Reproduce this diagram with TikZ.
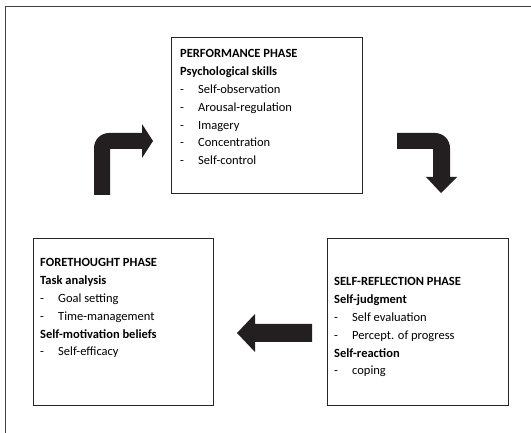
\documentclass[tikz,border=0pt]{standalone}
\usepackage{fontspec}
\setmainfont{Carlito}
\definecolor{arrowfill}{HTML}{231F20}
\begin{document}
\begin{tikzpicture}[x=1pt,y=-1pt,
  phasebox/.style={draw=black!85,line width=1.2pt,inner sep=0pt},
  phasetext/.style={anchor=base west,inner sep=0pt,
    font=\fontsize{12.5}{17.8}\selectfont},
  blockarrow/.style={fill=arrowfill,draw=none},
  frameline/.style={draw=black!75,line width=0.9pt}]
\useasboundingbox (0,0) rectangle (531,433);
% one line of a phase list; \itm gives a dash-led item
\newcommand{\pline}[1]{\hbox{#1}}
\newcommand{\itm}[1]{\hbox{\makebox[18pt][l]{-}#1}}
\newcommand{\plist}[1]{\vtop{\baselineskip=17.8pt #1}}

% outer frame (top and left edges)
\coordinate (frameA) at (531,6);
\coordinate (frameB) at (5,6);
\coordinate (frameC) at (5,433);
\draw[frameline] (frameA) -- (frameB) -- (frameC);

% phase boxes
\node[phasebox,minimum width=191pt,minimum height=156pt,anchor=north west] (perf) at (171,37) {};
\node[phasebox,minimum width=180pt,minimum height=167pt,anchor=north west] (fore) at (33,238) {};
\node[phasebox,minimum width=181pt,minimum height=167pt,anchor=north west] (refl) at (327,238) {};

% texts
\node[phasetext] (perftxt) at (180,58) {\plist{%
  \pline{\textbf{PERFORMANCE PHASE}}
  \pline{\textbf{Psychological skills}}
  \itm{Self-observation}
  \itm{Arousal-regulation}
  \itm{Imagery}
  \itm{Concentration}
  \itm{Self-control}}};
\node[phasetext] (foretxt) at (40,267) {\plist{%
  \pline{\textbf{FORETHOUGHT PHASE}}
  \pline{\textbf{Task analysis}}
  \itm{Goal setting}
  \itm{Time-management}
  \pline{\textbf{Self-motivation beliefs}}
  \itm{Self-efficacy}}};
\node[phasetext] (refltxt) at (334,286) {\plist{%
  \pline{\textbf{SELF-REFLECTION PHASE}}
  \pline{\textbf{Self-judgment}}
  \itm{Self evaluation}
  \itm{Percept. of progress}
  \pline{\textbf{Self-reaction}}
  \itm{coping}}};

% bent arrow from forethought up to performance
\fill[blockarrow] (94,195) -- (94,148) arc[start angle=180,end angle=90,radius=15pt]
  -- (142,133) -- (142,124) -- (153,141) -- (142,158) -- (142,149)
  -- (110,149) -- (110,195) -- cycle;
% bent arrow from performance down to self-reflection
\fill[blockarrow] (397,133) -- (435,133) arc[start angle=90,end angle=0,radius=15pt]
  -- (450,177) -- (457,177) -- (441,193) -- (426,177) -- (433,177)
  -- (433,149) -- (397,149) -- cycle;
% straight arrow from self-reflection back to forethought
\fill[blockarrow] (312,324) -- (255,324) -- (255,314) -- (237,333) -- (255,352)
  -- (255,342) -- (312,342) -- cycle;
\end{tikzpicture}
\end{document}
